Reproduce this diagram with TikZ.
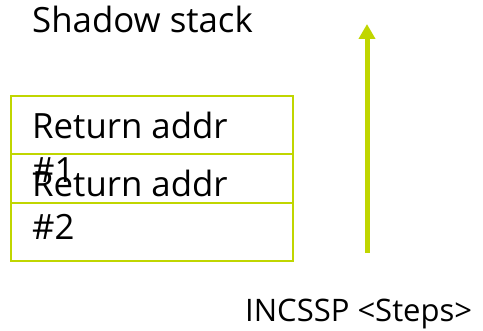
\documentclass[tikz,border=0pt]{standalone}
\usepackage{fontspec}
\setmainfont{Open Sans}
\usetikzlibrary{arrows.meta}
\definecolor{lime}{RGB}{192,214,0}
\tikzset{
  slot/.style={draw=lime, line width=2.5pt},
  label/.style={anchor=base west, inner sep=0pt, font=\fontsize{34.8}{44}\selectfont},
  caption/.style={anchor=base west, inner sep=0pt, font=\fontsize{31}{38}\selectfont},
  growth/.style={draw=lime, line width=5pt, -{Triangle[width=16pt,length=15pt]}}
}
\begin{document}
\begin{tikzpicture}[x=1pt,y=-1pt]
  \useasboundingbox (0,0) rectangle (483,331);
  % title
  \node[label] (title) at (32,33) {Shadow stack};
  % stack slots
  \draw[slot] (11,96) rectangle (293,154);
  \draw[slot] (11,154) rectangle (293,203);
  \draw[slot] (11,203) rectangle (293,261);
  % slot contents
  \node[label] (ra1) at (32,139) {Return addr};
  \node[label] (n1) at (32,183) {\#1};
  \node[label] (ra2) at (32,197) {Return addr};
  \node[label] (n2) at (32,240) {\#2};
  % direction of INCSSP
  \coordinate (tail) at (367,253);
  \coordinate (head) at (367,24);
  \draw[growth] (tail) -- (head);
  \node[caption] (op) at (245,322) {INCSSP <Steps>};
\end{tikzpicture}
\end{document}
